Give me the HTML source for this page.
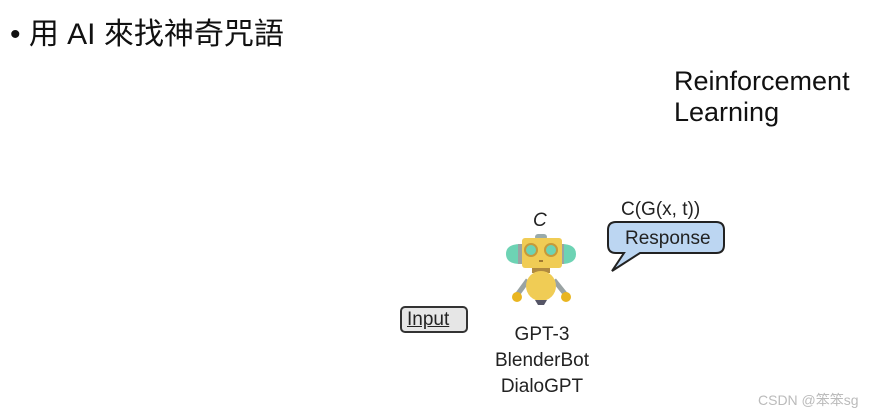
<!DOCTYPE html><html><head><style>
body{margin:0;width:876px;height:414px;background:#fff;position:relative;overflow:hidden;font-family:"Liberation Sans","Noto Sans CJK TC",sans-serif}
.t{position:absolute;white-space:nowrap}
.c{font-family:"Comic Sans MS","Liberation Sans",sans-serif;color:#222}
</style></head><body>
<div class="t" style="left:10px;top:9px;font-size:30px;color:#111">• 用 AI 來找神奇咒語</div>
<div class="t" style="left:674px;top:66px;font-size:27px;line-height:31px;color:#111">Reinforcement<br>Learning</div>
<div class="t c" style="left:533px;top:210px;font-size:19px;font-style:italic">C</div>
<div class="t c" style="left:621px;top:199px;font-size:19px">C(G(x, t))</div>
<svg style="position:absolute;left:0;top:0" width="876" height="414">
<path d="M616 222 H716 Q724 222 724 230 V245 Q724 253 716 253 H640 L612 271 L624 253 H616 Q608 253 608 245 V230 Q608 222 616 222Z" fill="#bcd6f2" stroke="#222" stroke-width="2"/>
<rect x="401" y="307" width="66" height="25" rx="4" fill="#e6e6e6" stroke="#333" stroke-width="2"/>
<rect x="535" y="234" width="12" height="6" rx="3" fill="#9aa"/>
<path d="M521 244 Q506 244 506 254 Q506 264 521 264Z" fill="#6dd3b4"/>
<path d="M561 244 Q576 244 576 254 Q576 264 561 264Z" fill="#6dd3b4"/>
<rect x="518" y="244" width="6" height="20" fill="#9aa3a3"/>
<rect x="558" y="244" width="6" height="20" fill="#9aa3a3"/>
<rect x="522" y="238" width="40" height="30" rx="3" fill="#f0cc55"/>
<circle cx="531" cy="250" r="6" fill="#6dd3b4" stroke="#c69a3a" stroke-width="2"/>
<circle cx="551" cy="250" r="6" fill="#6dd3b4" stroke="#c69a3a" stroke-width="2"/>
<rect x="539" y="260" width="4" height="2" fill="#a07a30"/>
<rect x="532" y="268" width="18" height="5" fill="#b08a40"/>
<path d="M528 280 L517 295" stroke="#9aa3a3" stroke-width="5"/>
<path d="M554 280 L566 295" stroke="#9aa3a3" stroke-width="5"/>
<circle cx="541" cy="286" r="15" fill="#f0cc55"/>
<path d="M535 300 H547 L544 305 H538Z" fill="#556"/>
<circle cx="517" cy="297" r="5" fill="#e9b520"/>
<circle cx="566" cy="297" r="5" fill="#e9b520"/>
</svg>
<div class="t c" style="left:625px;top:228px;font-size:19px">Response</div>
<div class="t c" style="left:407px;top:309px;font-size:19px;text-decoration:underline">Input</div>
<div class="t c" style="left:488px;top:322px;width:108px;text-align:center;font-size:19px;line-height:26px">GPT-3<br>BlenderBot<br>DialoGPT</div>
<div class="t" style="left:758px;top:390px;font-size:14px;color:#bbb">CSDN @笨笨sg</div>
</body></html>
